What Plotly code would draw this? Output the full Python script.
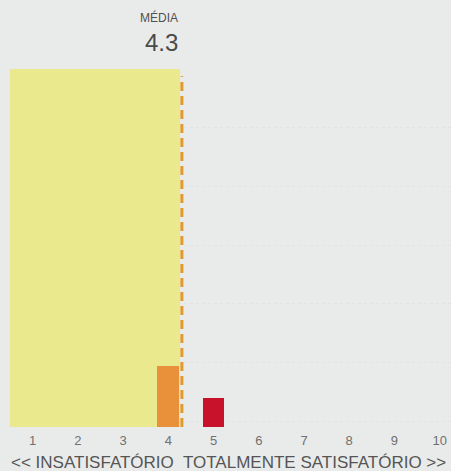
import plotly.graph_objects as go

scores = [1, 2, 3, 4, 5, 6, 7, 8, 9, 10]
shares = [0, 0, 0, 17, 8, 0, 0, 0, 0, 0]
bar_colors = ["#e8903a", "#e8903a", "#e8903a", "#e8903a", "#c8122c",
              "#c8122c", "#c8122c", "#c8122c", "#c8122c", "#c8122c"]
mean_value = 4.3
mean_label = "MÉDIA"
axis_caption = "<< INSATISFATÓRIO  TOTALMENTE SATISFATÓRIO >>"

bg = "#e9ebea"

fig = go.Figure()
fig.add_trace(go.Bar(
    x=scores, y=shares, width=0.48,
    marker=dict(color=bar_colors, line=dict(width=0)),
    hoverinfo="skip",
))

# shaded area up to the mean
fig.add_shape(type="rect", xref="x", yref="y", x0=0.5, x1=mean_value - 0.04,
              y0=0, y1=100, fillcolor="#eae98e", line=dict(width=0), layer="between")
# mean line
fig.add_shape(type="line", xref="x", yref="y", x0=mean_value, x1=mean_value,
              y0=0, y1=98, line=dict(color="#e39a2c", width=3, dash="9px,5px"))

fig.add_annotation(x=mean_value, xref="x", y=1.145, yref="paper", text=mean_label,
                   showarrow=False, xanchor="right", yanchor="middle", xshift=-2,
                   font=dict(family="Liberation Sans", size=12, color="#505050"))
fig.add_annotation(x=mean_value, xref="x", y=1.075, yref="paper", text=f"{mean_value}",
                   showarrow=False, xanchor="right", yanchor="middle", xshift=-2,
                   font=dict(family="Liberation Sans", size=24, color="#4a4a4a"))
fig.add_annotation(x=-0.003, xref="paper", y=-0.098, yref="paper", text=axis_caption,
                   showarrow=False, xanchor="left", yanchor="middle",
                   font=dict(family="Liberation Sans", size=17, color="#555555"))

fig.update_layout(
    width=451, height=471,
    margin=dict(l=10, r=0, t=69, b=44),
    paper_bgcolor=bg, plot_bgcolor=bg,
    showlegend=False,
    bargap=0,
    xaxis=dict(range=[0.5, 10.25], tickmode="array", tickvals=scores,
               ticktext=[str(s) for s in scores], showgrid=False, zeroline=False,
               showline=False, ticks="", ticklabelstandoff=4,
               tickfont=dict(family="Liberation Sans", size=13, color="#707070")),
    yaxis=dict(range=[0, 100], showticklabels=False, zeroline=False,
               showgrid=True, gridcolor="#e2e4e3", griddash="dot", gridwidth=1,
               tick0=100, dtick=16.4),
)

fig.write_html("out.html", config={"displayModeBar": False},
               post_script="document.body.style.margin='0';document.body.style.overflow='hidden';")
